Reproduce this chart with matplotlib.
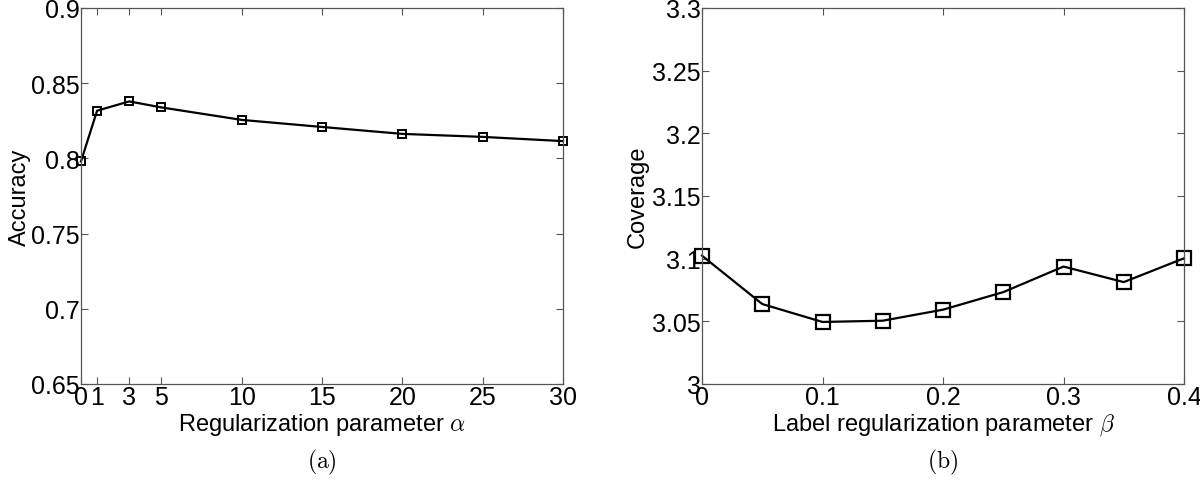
import matplotlib
matplotlib.use('Agg')
import matplotlib.pyplot as plt

plt.rcParams['font.family'] = ['Liberation Sans', 'DejaVu Sans']
plt.rcParams['mathtext.fontset'] = 'cm'

# panel (a): accuracy vs alpha
alpha = [0, 1, 3, 5, 10, 15, 20, 25, 30]
accuracy = [0.798, 0.8317, 0.8379, 0.8339, 0.8256, 0.8209, 0.8163, 0.8143, 0.8115]
alpha_ticks = [0, 1, 3, 5, 10, 15, 20, 25, 30]
acc_ticks = [0.65, 0.7, 0.75, 0.8, 0.85, 0.9]
acc_labels = ['0.65', '0.7', '0.75', '0.8', '0.85', '0.9']

# panel (b): coverage vs beta
beta = [0, 0.05, 0.1, 0.15, 0.2, 0.25, 0.3, 0.35, 0.4]
coverage = [3.1024, 3.0638, 3.0495, 3.0505, 3.0593, 3.0733, 3.0937, 3.0813, 3.1003]
beta_ticks = [0, 0.1, 0.2, 0.3, 0.4]
beta_labels = ['0', '0.1', '0.2', '0.3', '0.4']
cov_ticks = [3, 3.05, 3.1, 3.15, 3.2, 3.25, 3.3]
cov_labels = ['3', '3.05', '3.1', '3.15', '3.2', '3.25', '3.3']

W, H = 1200, 481
fig = plt.figure(figsize=(12, 4.81), dpi=100)
ax1 = fig.add_axes([81 / W, 1 - 385 / H, 482 / W, 376 / H])
ax2 = fig.add_axes([702 / W, 1 - 385 / H, 482 / W, 376 / H])

ax1.plot(alpha, accuracy, color='black', lw=1.6, marker='s', ms=6,
         mfc='none', mec='black', mew=1.4, clip_on=False)
ax1.set_xlim(0, 30)
ax1.set_ylim(0.65, 0.9)
ax1.set_xticks(alpha_ticks)
ax1.set_xticklabels([str(a) for a in alpha_ticks])
ax1.set_yticks(acc_ticks)
ax1.set_yticklabels(acc_labels)
ax1.set_ylabel('Accuracy', fontsize=17, labelpad=0)
ax1.set_xlabel(r'Regularization parameter $\alpha$', fontsize=17, labelpad=1)

ax2.plot(beta, coverage, color='black', lw=1.6, marker='s', ms=10,
         mfc='none', mec='black', mew=1.6, clip_on=False)
ax2.set_xlim(0, 0.4)
ax2.set_ylim(3, 3.3)
ax2.set_xticks(beta_ticks)
ax2.set_xticklabels(beta_labels)
ax2.set_yticks(cov_ticks)
ax2.set_yticklabels(cov_labels)
ax2.set_ylabel('Coverage', fontsize=17, labelpad=2)
ax2.set_xlabel(r'Label regularization parameter $\beta$', fontsize=17, labelpad=1)

for ax in (ax1, ax2):
    ax.tick_params(direction='in', top=True, right=True, length=5,
                   width=0.8, color='#555555', labelsize=18, pad=1)
    for s in ax.spines.values():
        s.set_color('#555555')
        s.set_linewidth(0.9)

fig.text(322 / W, 1 - 462 / H, r'$\mathrm{(a)}$', ha='center', va='center', fontsize=17)
fig.text(943 / W, 1 - 462 / H, r'$\mathrm{(b)}$', ha='center', va='center', fontsize=17)

fig.savefig('out.png', dpi=100)
